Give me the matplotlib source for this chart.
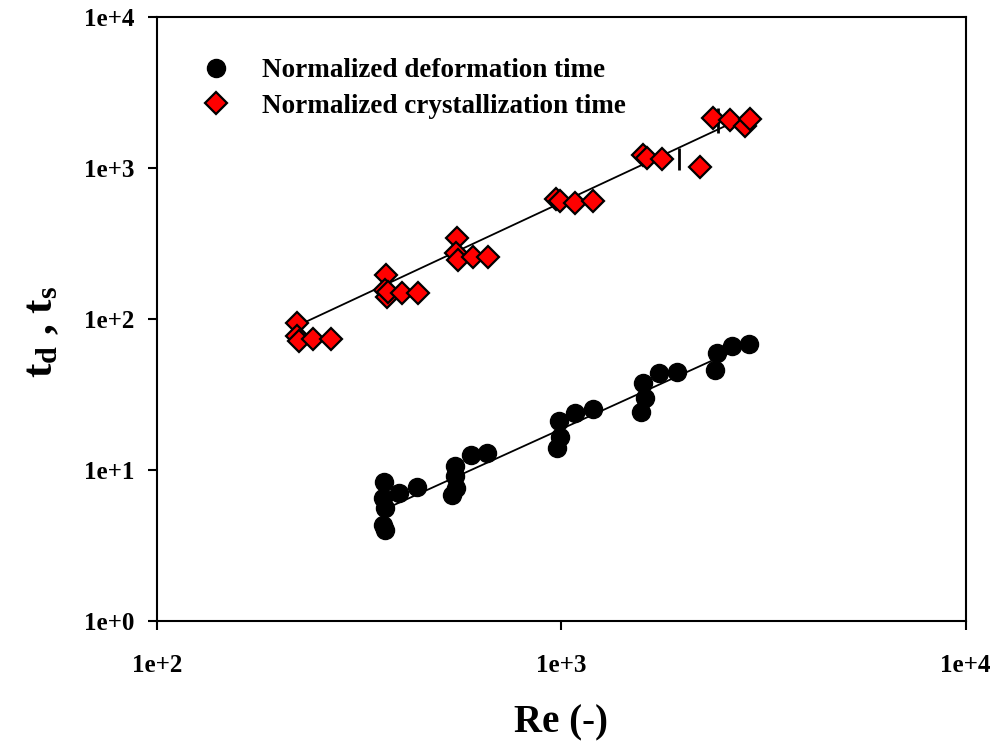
import numpy as np
import matplotlib
matplotlib.use("Agg")
import matplotlib.pyplot as plt

plt.rcParams["font.family"] = ["Liberation Serif", "DejaVu Serif"]
plt.rcParams["font.weight"] = "bold"
plt.rcParams["mathtext.fontset"] = "custom"
plt.rcParams["mathtext.rm"] = "Liberation Serif:bold"
plt.rcParams["mathtext.bf"] = "Liberation Serif:bold"
plt.rcParams["mathtext.it"] = "Liberation Serif:bold"

# Normalized crystallization time vs Reynolds number
re_cryst = [222, 222, 225, 243, 270,
            369, 367, 370, 372, 403, 443,
            553, 550, 555, 603, 659,
            972, 994, 1083, 1200,
            1596, 1633, 1778, 2208, 2378, 2618, 2851, 2936]
t_cryst = [94, 77, 72, 74, 74,
           195, 156, 140, 150, 148, 149,
           344, 273, 246, 256, 256,
           620, 600, 590, 600,
           1220, 1170, 1150, 1016, 2140, 2080, 1900, 2110]

# Normalized deformation time vs Reynolds number
re_deform = [365, 363, 366, 362, 367, 397, 440,
             547, 547, 550, 537, 599, 656,
             989, 994, 977, 1083, 1200,
             1596, 1614, 1578, 1748, 1937, 2433, 2404, 2649, 2904]
t_deform = [8.3, 6.5, 5.6, 4.3, 4.0, 7.0, 7.7,
            10.6, 9.1, 7.6, 6.8, 12.6, 13.0,
            21.0, 16.5, 14.0, 23.8, 25.3,
            37.7, 30.0, 24.2, 43.9, 44.5, 59.6, 46.0, 66.3, 68.3]

# Power-law fits  t = a * Re^b
fit_cryst = dict(a=0.105, b=1.25, re_min=222, re_max=2950)
fit_deform = dict(a=0.0042, b=1.216, re_min=384, re_max=2900)

# Vertical bars on the crystallization fit
bar_re = [1950, 2440]
bar_lo = [970, 1706]
bar_hi = [1366, 2494]

x_ticks = [1e2, 1e3, 1e4]
x_ticklabels = ["1e+2", "1e+3", "1e+4"]
y_ticks = [1e0, 1e1, 1e2, 1e3, 1e4]
y_ticklabels = ["1e+0", "1e+1", "1e+2", "1e+3", "1e+4"]

fig = plt.figure(figsize=(9.96, 7.46), dpi=100)
ax = fig.add_axes([0.1576, 0.1676, 0.812, 0.8096])
ax.set_xscale("log")
ax.set_yscale("log")
ax.set_xlim(1e2, 1e4)
ax.set_ylim(1e0, 1e4)

for fit in (fit_cryst, fit_deform):
    xr = np.geomspace(fit["re_min"], fit["re_max"], 50)
    ax.plot(xr, fit["a"] * xr ** fit["b"], color="black", lw=1.3, zorder=2)

ax.vlines(bar_re, bar_lo, bar_hi, color="black", lw=2.0, zorder=2)

ax.plot(re_deform, t_deform, linestyle="none", marker="o", ms=13,
        mfc="black", mec="black", mew=1.0, zorder=3,
        label="Normalized deformation time")
ax.plot(re_cryst, t_cryst, linestyle="none", marker="D", ms=11.5,
        mfc="#ff0000", mec="black", mew=1.6, zorder=4,
        label="Normalized crystallization time")

ax.set_xticks(x_ticks)
ax.set_xticklabels(x_ticklabels)
ax.set_yticks(y_ticks)
ax.set_yticklabels(y_ticklabels)
ax.minorticks_off()
ax.tick_params(axis="both", which="major", direction="out", length=6.5,
               width=1.5, labelsize=18, top=False, right=False)
ax.tick_params(axis="x", pad=17)
ax.tick_params(axis="y", pad=10)
for lab in ax.get_xticklabels() + ax.get_yticklabels():
    lab.set_fontweight("bold")
for sp in ax.spines.values():
    sp.set_linewidth(1.5)

ax.set_xlabel("Re (-)", fontsize=28, fontweight="bold", labelpad=20)
ax.set_ylabel(r"$\mathbf{t_d}$ , $\mathbf{t_s}$", fontsize=31,
              fontweight="bold")
ax.yaxis.set_label_coords(-0.118, 0.478)

leg = ax.legend(loc="upper left", bbox_to_anchor=(0.034, 0.963), frameon=False,
                prop=dict(family="Liberation Serif", weight="bold", size=19.5),
                handletextpad=1.25, labelspacing=0.38, borderaxespad=0.3,
                handlelength=0.9)

fig.savefig("out.png", dpi=100)
